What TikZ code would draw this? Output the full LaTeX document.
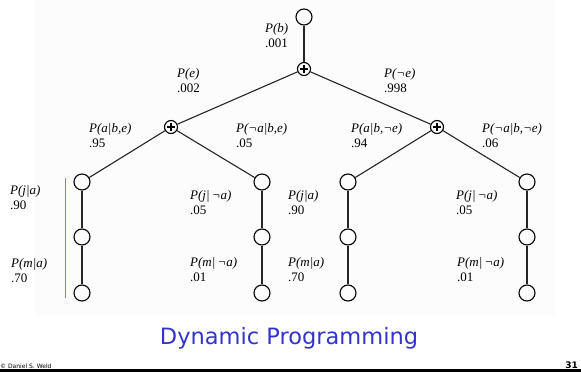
\documentclass[tikz,border=0pt]{standalone}
\usepackage{fontspec}
\setmainfont{Liberation Serif}
\newfontfamily\titlefont{DejaVu Sans}
\newfontfamily\footfont{DejaVu Sans}
\definecolor{titleblue}{RGB}{52,52,205}
\definecolor{panelgray}{RGB}{252,252,252}
\definecolor{rulered}{RGB}{235,95,95}
\begin{document}
\begin{tikzpicture}[x=1pt,y=-1pt,
  var/.style={circle,draw,line width=1.1pt,minimum size=16pt,inner sep=0pt},
  sumnode/.style={circle,draw,line width=1.1pt,minimum size=13pt,inner sep=0pt,
    path picture={\draw[line width=1.6pt]
      ([xshift=-4pt]path picture bounding box.center) -- ([xshift=4pt]path picture bounding box.center)
      ([yshift=-4pt]path picture bounding box.center) -- ([yshift=4pt]path picture bounding box.center);}},
  edge/.style={line width=1.1pt,draw=black!85},
  lbl/.style={align=left,anchor=north west,inner sep=0pt,font=\fontsize{13}{15.5}\selectfont}
]
\useasboundingbox (0,0) rectangle (581,372);
\fill[panelgray] (35,0) rectangle (555,315);

% tree nodes
\node[var] (b) at (304,17) {};
\node[sumnode] (s0) at (304,69) {};
\node[sumnode] (sl) at (171,127) {};
\node[sumnode] (sr) at (437,127) {};
\foreach \n/\x in {1/82,2/262,3/348,4/527}{
  \node[var] (a\n) at (\x,182) {};
  \node[var] (j\n) at (\x,237) {};
  \node[var] (m\n) at (\x,293) {};
}

% connectors
\draw[edge] (b) -- (s0);
\draw[edge] (s0) -- (sl);
\draw[edge] (s0) -- (sr);
\draw[edge] (sl) -- (a1);
\draw[edge] (sl) -- (a2);
\draw[edge] (sr) -- (a3);
\draw[edge] (sr) -- (a4);
\foreach \n in {1,2,3,4}{
  \draw[edge] (a\n) -- (j\n);
  \draw[edge] (j\n) -- (m\n);
}

% probability labels
\node[lbl] (lb) at (265,23) {\textit{P(b)}\\.001};
\node[lbl] (le) at (177,68) {\textit{P(e)}\\.002};
\node[lbl] (lne) at (384,68) {\textit{P(¬e)}\\.998};
\node[lbl] (l1) at (89,123) {\textit{P(a|b,e)}\\.95};
\node[lbl] (l2) at (236,123) {\textit{P(¬a|b,e)}\\.05};
\node[lbl] (l3) at (351,123) {\textit{P(a|b,¬e)}\\.94};
\node[lbl] (l4) at (482,123) {\textit{P(¬a|b,¬e)}\\.06};

\node[lbl] (j1l) at (10,185) {\textit{P(j|a)}\\.90};
\node[lbl] (m1l) at (11,258) {\textit{P(m|a)}\\.70};
\node[lbl] (j2l) at (190,190) {\textit{P(j|\,¬a)}\\.05};
\node[lbl] (m2l) at (190,257) {\textit{P(m|\,¬a)}\\.01};
\node[lbl] (j3l) at (288,190) {\textit{P(j|a)}\\.90};
\node[lbl] (m3l) at (288,257) {\textit{P(m|a)}\\.70};
\node[lbl] (j4l) at (456,190) {\textit{P(j|\,¬a)}\\.05};
\node[lbl] (m4l) at (457,257) {\textit{P(m|\,¬a)}\\.01};

% bracket line beside the first branch
\coordinate (rt) at (65,178);
\coordinate (rb) at (65,298);
\draw[rulered,line width=1pt] (rt) -- (rb);

% title and footer
\node[font=\titlefont\fontsize{22.5}{26}\selectfont,text=titleblue,anchor=base] (title) at (289,344) {Dynamic Programming};
\node[font=\footfont\fontsize{6}{7}\selectfont,anchor=base west,inner sep=0pt] (copy) at (0,368) {© Daniel S. Weld};
\node[font=\footfont\bfseries\fontsize{9}{10}\selectfont,anchor=base east,inner sep=0pt] (pg) at (578,368) {31};
\fill[black] (0,369) rectangle (581,372);
\end{tikzpicture}
\end{document}
